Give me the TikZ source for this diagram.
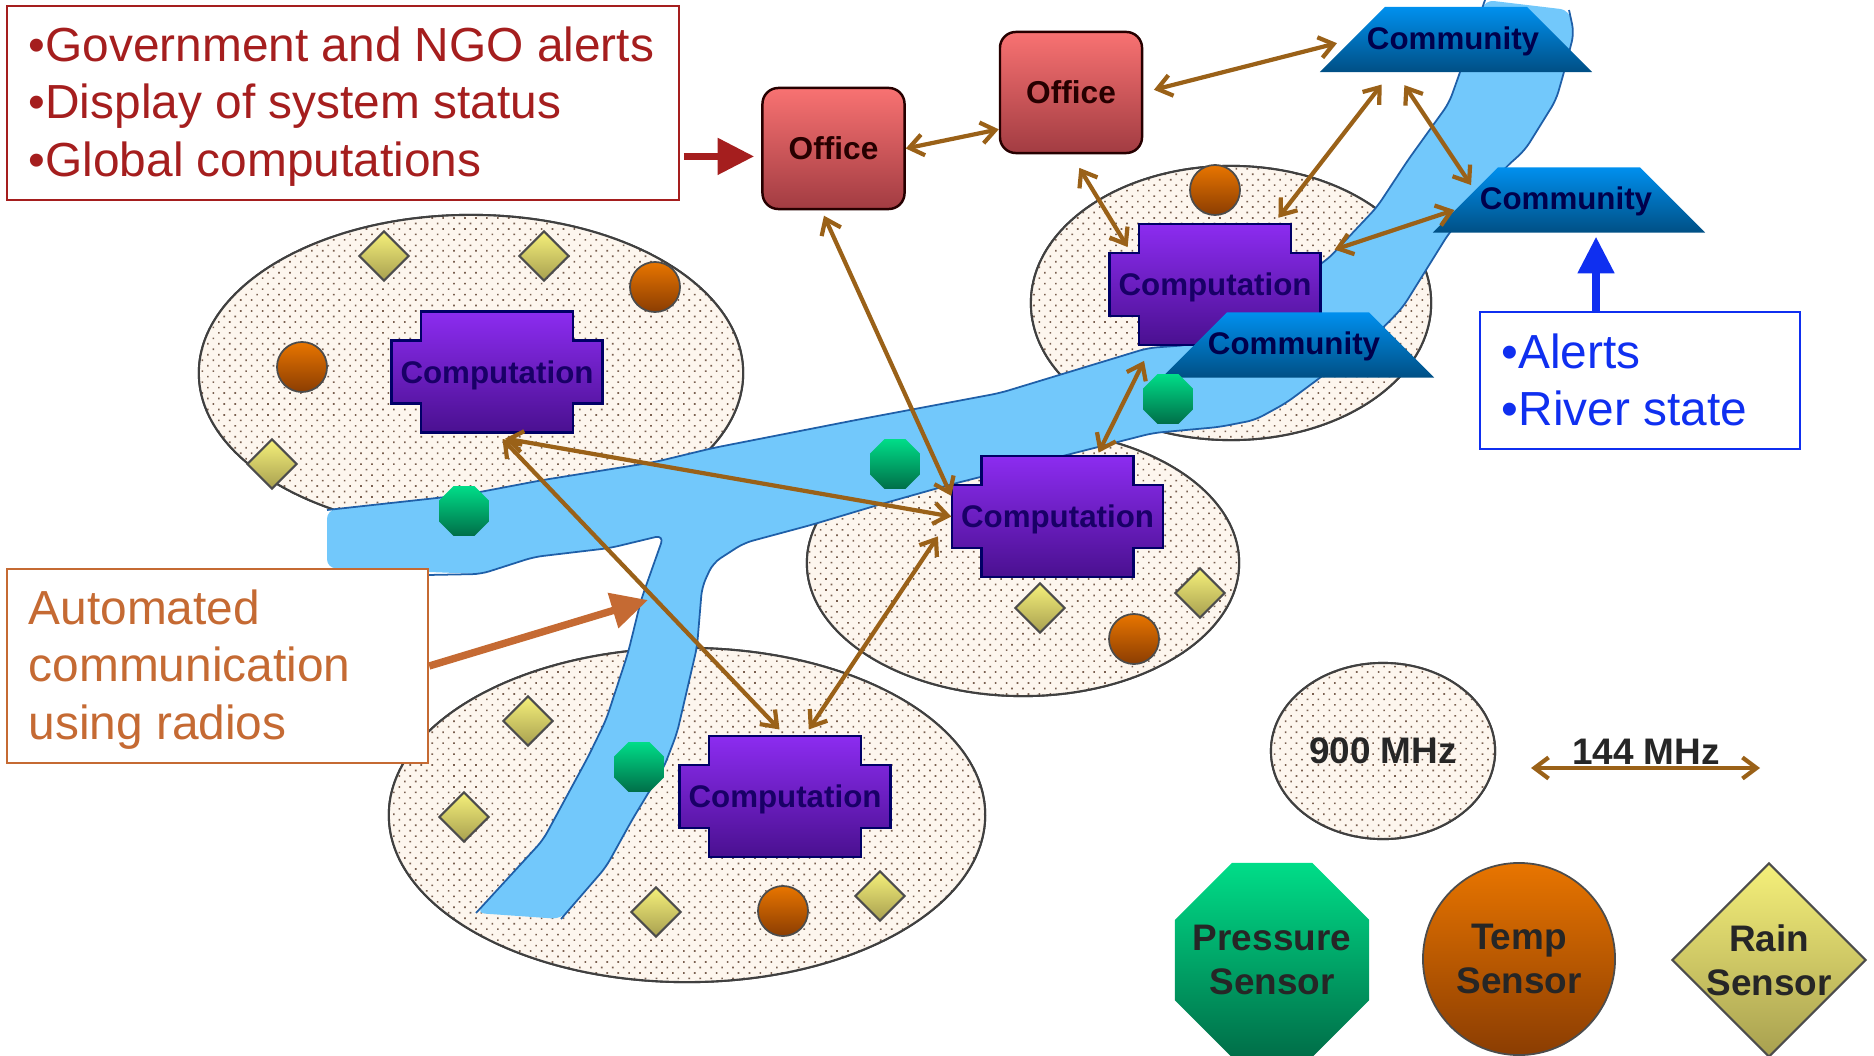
\documentclass[tikz,border=0pt]{standalone}
\usepackage{fontspec}
\setmainfont{Liberation Sans}
\usetikzlibrary{shapes.geometric,arrows.meta,patterns.meta}

\definecolor{linkbrown}{HTML}{9A6118}
\definecolor{riverblue}{HTML}{72C8FB}
\definecolor{riveredge}{HTML}{1F5FA8}
\definecolor{cellcream}{HTML}{FDF6EE}
\definecolor{celldot}{HTML}{7A6050}
\definecolor{alertred}{HTML}{A51E1E}
\definecolor{radiobrown}{HTML}{C56A33}
\definecolor{riverstate}{HTML}{0F2FF0}
\definecolor{officetop}{HTML}{F87272}
\definecolor{officebot}{HTML}{A23C42}
\definecolor{commtop}{HTML}{0090EE}
\definecolor{commbot}{HTML}{004F85}
\definecolor{blocktop}{HTML}{8C2CF0}
\definecolor{blockbot}{HTML}{4A1090}
\definecolor{presstop}{HTML}{00DD88}
\definecolor{pressbot}{HTML}{006E48}
\definecolor{temptop}{HTML}{E87500}
\definecolor{tempbot}{HTML}{8B3D02}
\definecolor{raintop}{HTML}{F5F07A}
\definecolor{rainbot}{HTML}{A8A050}

\tikzset{
  cell/.style={ellipse,draw=black!75,line width=0.6pt,inner sep=0pt,
    postaction={fill=cellcream},
    postaction={pattern={Dots[distance=2.2pt,angle=45,radius=0.33pt]},pattern color=celldot},
    postaction={draw=black!75,line width=0.6pt}},
  office/.style={rectangle,rounded corners=4.5pt,draw=black!85!red,line width=0.7pt,
    top color=officetop,bottom color=officebot,
    minimum width=1.42cm,minimum height=1.21cm,inner sep=0pt,
    font=\fontsize{9}{10}\selectfont\bfseries,text=black!85!red},
  community/.style={trapezium,trapezium angle=45,trapezium stretches body=true,
    minimum width=2.72cm,text height=0.65cm,text depth=0pt,inner sep=0pt,
    top color=commtop,bottom color=commbot},
  commtext/.style={inner sep=0pt,text depth=0pt,
    font=\fontsize{8.9}{10}\selectfont\bfseries,text=blue!30!black},
  block/.style={rectangle,minimum width=2.11cm,minimum height=1.21cm,inner sep=0pt,text depth=0pt,
    font=\fontsize{8.9}{10}\selectfont\bfseries,text=blue!45!black!90!red},
  blockshade/.style={draw=blue!40!black,line width=0.6pt,
    top color=blocktop,bottom color=blockbot},
  pressure/.style={regular polygon,regular polygon sides=8,inner sep=0pt,
    minimum size=0.54cm,top color=presstop,bottom color=pressbot},
  temp/.style={circle,draw=black!70,line width=0.5pt,inner sep=0pt,minimum size=0.5cm,
    top color=temptop,bottom color=tempbot},
  rain/.style={diamond,draw=black!70,line width=0.6pt,inner sep=0pt,minimum size=0.5cm,
    top color=raintop,bottom color=rainbot},
  legend/.style={align=center,font=\fontsize{10.5}{12.6}\selectfont\bfseries,text=black!85},
  callout/.style={rectangle,line width=0.6pt,fill=white,inner sep=0pt},
  callouttext/.style={anchor=west,inner sep=0pt,align=left,font=\fontsize{13.6}{16.4}\selectfont},
  link/.style 2 args={{Straight Barb[length=4pt,width=6pt]}-{Straight Barb[length=4pt,width=6pt]},
    draw=linkbrown,line width=1.2pt,shorten <=#1*0.2835pt,shorten >=#2*0.2835pt},
  bigarrow/.style={-{Triangle[length=10.4pt,width=10pt]},line width=2.1pt}
}

% the cross outline behind each computation node
\newcommand{\blockat}[2]{
  \path[blockshade] (#1-105.5,#2-31.5) -- (#1-76,#2-31.5) -- (#1-76,#2-60.5) -- (#1+76,#2-60.5)
    -- (#1+76,#2-31.5) -- (#1+105.5,#2-31.5) -- (#1+105.5,#2+31.5) -- (#1+76,#2+31.5)
    -- (#1+76,#2+60.5) -- (#1-76,#2+60.5) -- (#1-76,#2+31.5) -- (#1-105.5,#2+31.5) -- cycle;
}

\begin{document}
\begin{tikzpicture}[x=0.01cm,y=-0.01cm]
  \useasboundingbox (0,0) rectangle (1874,1055);

  % radio cells
  \node[cell,minimum width=5.44cm,minimum height=3.16cm] (cellL) at (471,373) {};
  \node[cell,minimum width=4cm,minimum height=2.74cm] (cellT) at (1231,303) {};
  \node[cell,minimum width=4.32cm,minimum height=2.66cm] (cellC) at (1023,563) {};
  \node[cell,minimum width=5.96cm,minimum height=3.34cm] (cellB) at (687,815) {};

  % river
  \fill[riverblue,rounded corners=2.5pt] (327,510) -- (464,495) -- (543,480) -- (655,462) -- (713,448) -- (856,420) -- (1000,393)
    -- (1148,348) -- (1189,345) -- (1327,260) -- (1377,207) -- (1408,160) -- (1449,103) -- (1459,75) -- (1485,0)
    -- (1569,10) -- (1574,33) -- (1564,72) -- (1556,100) -- (1525,150) -- (1505,168) -- (1449,233) -- (1426,270) -- (1403,307)
    -- (1383,328) -- (1321,377) -- (1286,403) -- (1255,420) -- (1219,427) -- (1153,433) -- (949,485) -- (878,505)
    -- (811,525) -- (744,543) -- (713,563) -- (702,587) -- (697,647) -- (677,733) -- (664,767) -- (632,820) -- (606,867)
    -- (561,919) -- (476,913) -- (543,840) -- (588,757) -- (606,720) -- (628,653) -- (641,600) -- (664,535)
    -- (610,548) -- (534,557) -- (481,574) -- (327,568) -- cycle;
  \draw[riveredge,line width=0.5pt,rounded corners=2.5pt] (327,510) -- (464,495) -- (543,480) -- (655,462) -- (713,448) -- (856,420) -- (1000,393)
    -- (1148,348) -- (1189,345) -- (1327,260) -- (1377,207) -- (1408,160) -- (1449,103) -- (1459,75) -- (1485,0);
  \draw[riveredge,line width=0.5pt,rounded corners=2.5pt] (1569,10) -- (1574,33) -- (1564,72) -- (1556,100) -- (1525,150) -- (1505,168) -- (1449,233) -- (1426,270) -- (1403,307)
    -- (1383,328) -- (1321,377) -- (1286,403) -- (1255,420) -- (1219,427) -- (1153,433) -- (949,485) -- (878,505)
    -- (811,525) -- (744,543) -- (713,563) -- (702,587) -- (697,647) -- (677,733) -- (664,767) -- (632,820) -- (606,867)
    -- (561,919);
  \draw[riveredge,line width=0.5pt,rounded corners=2.5pt] (476,913) -- (543,840) -- (588,757) -- (606,720) -- (628,653) -- (641,600) -- (664,535)
    -- (610,548) -- (534,557) -- (481,574) -- (427,575);

  % computation
  \blockat{497}{372}
  \node[block] (compL) at (497,372) {Computation};
  \blockat{1215}{284.5}
  \node[block] (compT) at (1215,284.5) {Computation};
  \blockat{1057.5}{516.5}
  \node[block] (compC) at (1057.5,516.5) {Computation};
  \blockat{785}{796.5}
  \node[block] (compB) at (785,796.5) {Computation};

  % offices and communities
  \node[office] (office1) at (833.5,148.5) {Office};
  \node[office] (office2) at (1071,92.5) {Office};
  \node[community] (comm1) at (1456,39.5) {};
  \node[commtext] (comm1text) at (1453,38) {Community};
  \node[community] (comm2) at (1569,200) {};
  \node[commtext] (comm2text) at (1566,198) {Community};
  \node[community] (comm3) at (1298,345) {};
  \node[commtext] (comm3text) at (1294,343) {Community};

  % sensors in the cells
  \node[rain] (rain1) at (384,256) {};
  \node[rain] (rain2) at (544,256) {};
  \node[temp] (temp1) at (655,287) {};
  \node[temp] (temp2) at (302,367) {};
  \node[rain] (rain3) at (272,464) {};
  \node[pressure] (press1) at (464,511) {};
  \node[pressure] (press2) at (895,464) {};
  \node[pressure] (press3) at (1168,399) {};
  \node[pressure] (press4) at (639,767) {};
  \node[temp] (temp3) at (1215,190) {};
  \node[rain] (rain4) at (1040,608) {};
  \node[rain] (rain5) at (1200,593) {};
  \node[temp] (temp4) at (1134,639) {};
  \node[rain] (rain6) at (528,721) {};
  \node[rain] (rain7) at (464,817) {};
  \node[rain] (rain8) at (656,912) {};
  \node[rain] (rain9) at (880,896) {};
  \node[temp] (temp5) at (783,911) {};

  % radio links
  \draw[link={0}{0}] (office1.east) -- (office2.207);
  \draw[link={11}{15}] (office2.east) -- (comm1.west);
  \draw[link={7}{15}] (compT.46) -- (comm1.207);
  \draw[link={15}{6}] (comm1.209) -- (comm2.174);
  \draw[link={14}{0}] (compT.16) -- (comm2.185);
  \draw[link={16}{-28}] (office2.south) -- (compT.149);
  \draw[link={6}{0}] (office1.259) -- (compC.169.5);
  \draw[link={31}{0}] (compL.250) -- (compC.west);
  \draw[link={8}{8}] (compL.south) -- (compB.north);
  \draw[link={24}{7}] (compC.west) -- (compB.72);
  \draw[link={3}{17}] (compC.57) -- (compT.224);

  % legend
  \node[cell,minimum width=2.24cm,minimum height=1.76cm,legend] (key900) at (1383,751) {900 MHz};
  \coordinate (key144L) at (1531,768);
  \coordinate (key144R) at (1760,768);
  \draw[link={0}{0}] (key144L) -- (key144R);
  \node[legend] (key144) at (1646,752) {144 MHz};
  \node[pressure,minimum size=2.1cm] (keypress) at (1272,960) {};
  \node[legend] (keypresstext) at (1272,960) {Pressure\\Sensor};
  \node[temp,minimum size=1.92cm,legend] (keytemp) at (1519,959) {Temp\\Sensor};
  \node[rain,minimum size=1.94cm] (keyrain) at (1769,960) {};
  \node[legend] (keyraintext) at (1769,960) {Rain\\Sensor};

  % callouts
  \node[callout,draw=alertred,minimum width=6.72cm,minimum height=1.94cm] (govbox) at (343,103) {};
  \node[callouttext,text=alertred] (govtext) at (28,106.5)
    {•Government and NGO alerts\\•Display of system status\\•Global computations};
  \draw[bigarrow,alertred,shorten <=1pt,shorten >=2pt] (govbox.-9) -- (govbox.-9 -| office1.west);

  \node[callout,draw=radiobrown,minimum width=4.21cm,minimum height=1.94cm] (radiobox) at (217.5,666) {};
  \node[callouttext,text=radiobrown] (radiotext) at (28,669.5)
    {Automated\\communication\\using radios};
  \coordinate (rivertip) at (648,600);
  \draw[bigarrow,radiobrown] (radiobox.east) -- (rivertip);

  \node[callout,draw=riverstate,minimum width=3.2cm,minimum height=1.37cm] (statebox) at (1640,380.5) {};
  \node[callouttext,text=riverstate] (statetext) at (1501,380)
    {•Alerts\\•River state};
  \coordinate (statetail) at (1596,312);
  \draw[bigarrow,riverstate,shorten >=1pt] (statetail) -- (statetail |- comm2.south);
\end{tikzpicture}
\end{document}
